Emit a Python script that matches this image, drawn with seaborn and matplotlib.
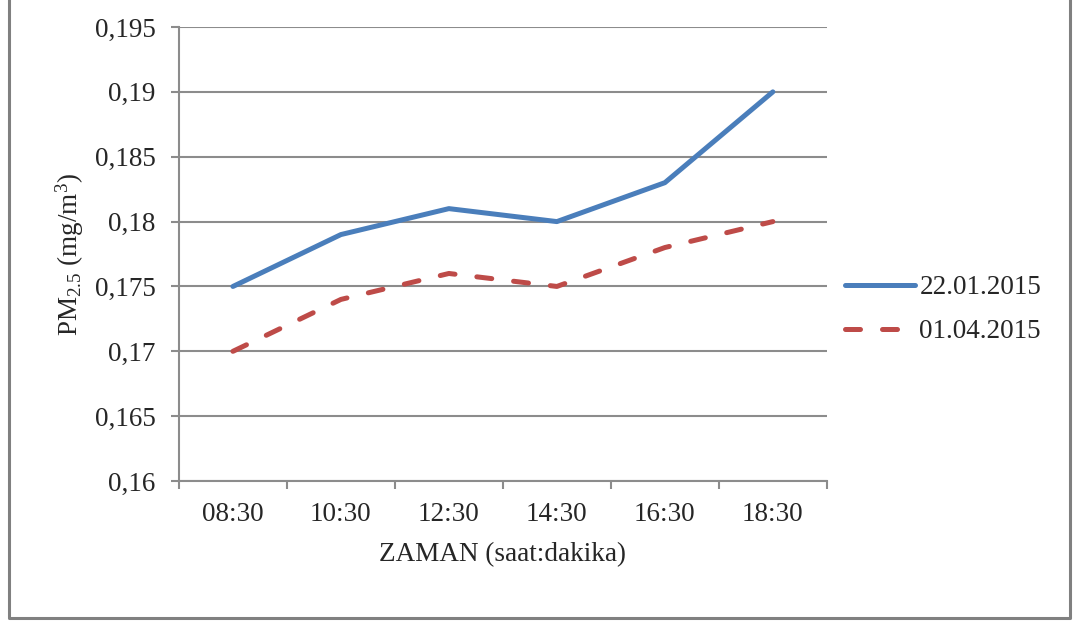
import pandas as pd
import matplotlib.pyplot as plt
import seaborn as sns
from matplotlib.lines import Line2D
from matplotlib.ticker import FuncFormatter, FixedLocator

times = ['08:30', '10:30', '12:30', '14:30', '16:30', '18:30']
pm_jan = [0.175, 0.179, 0.181, 0.180, 0.183, 0.190]
pm_apr = [0.170, 0.174, 0.176, 0.175, 0.178, 0.180]
dates = ['22.01.2015', '01.04.2015']

df = pd.DataFrame({
    'time': times * 2,
    'pm': pm_jan + pm_apr,
    'date': [dates[0]] * len(times) + [dates[1]] * len(times),
})

sns.set_theme(style='white')
plt.rcParams['font.family'] = ['Liberation Serif', 'DejaVu Serif']
plt.rcParams['mathtext.fontset'] = 'custom'
plt.rcParams['mathtext.rm'] = 'Liberation Serif'
plt.rcParams['mathtext.it'] = 'Liberation Serif'
plt.rcParams['lines.dash_capstyle'] = 'round'
plt.rcParams['lines.solid_capstyle'] = 'round'

fs = 19.5
fig = plt.figure(figsize=(10.78, 6.21), dpi=100)
ax = fig.add_axes([0.166, 0.2254, 0.601, 0.7311])

grey = '#8c8c8c'
ax = sns.lineplot(data=df, x='time', y='pm', hue='date', style='date',
                  palette={dates[0]: '#4a7ebb', dates[1]: '#be4b48'},
                  dashes={dates[0]: '', dates[1]: (3.0, 4.4)},
                  linewidth=3.6, ax=ax)

ax.set_ylim(0.16, 0.195)
ax.set_xlim(-0.5, 5.5)
ax.set_yticks([0.16 + 0.005 * i for i in range(8)])
ax.yaxis.set_major_formatter(FuncFormatter(lambda v, p: f'{v:.3f}'.rstrip('0').replace('.', ',')))
ax.xaxis.set_minor_locator(FixedLocator([i - 0.5 for i in range(7)]))
ax.tick_params(axis='x', which='major', length=0, pad=15, labelsize=fs)
ax.tick_params(axis='x', which='minor', length=5.8, width=1.5, color=grey, direction='out', bottom=True)
ax.tick_params(axis='y', length=5.8, width=1.5, color=grey, direction='out', left=True, pad=11, labelsize=fs)
ax.grid(axis='y', color=grey, linewidth=1.5)
ax.set_axisbelow(True)
for s in ['top', 'right']:
    ax.spines[s].set_visible(False)
for s in ['left', 'bottom']:
    ax.spines[s].set_color(grey)
    ax.spines[s].set_linewidth(1.5)

ax.set_xlabel('ZAMAN (saat:dakika)', fontsize=fs, labelpad=11)
ax.set_ylabel('PM$_{2.5}$ (mg/m$^3$)', fontsize=fs, labelpad=6)

handles, labels = ax.get_legend_handles_labels()
ax.legend(handles, labels, loc='center left', bbox_to_anchor=(1.028, 0.377),
          frameon=False, fontsize=fs, handlelength=2.6, handletextpad=0.15,
          labelspacing=0.7, borderpad=0, borderaxespad=0)

# outer chart frame (left, bottom, right)
fx0, fx1, fy0 = 8.5 / 1078, 1069.5 / 1078, 3 / 621
fig.lines.append(Line2D([fx0, fx0, fx1, fx1], [1.01, fy0, fy0, 1.01],
                        transform=fig.transFigure, color='#808080', linewidth=2.2))

fig.savefig('out.png', dpi=100)
